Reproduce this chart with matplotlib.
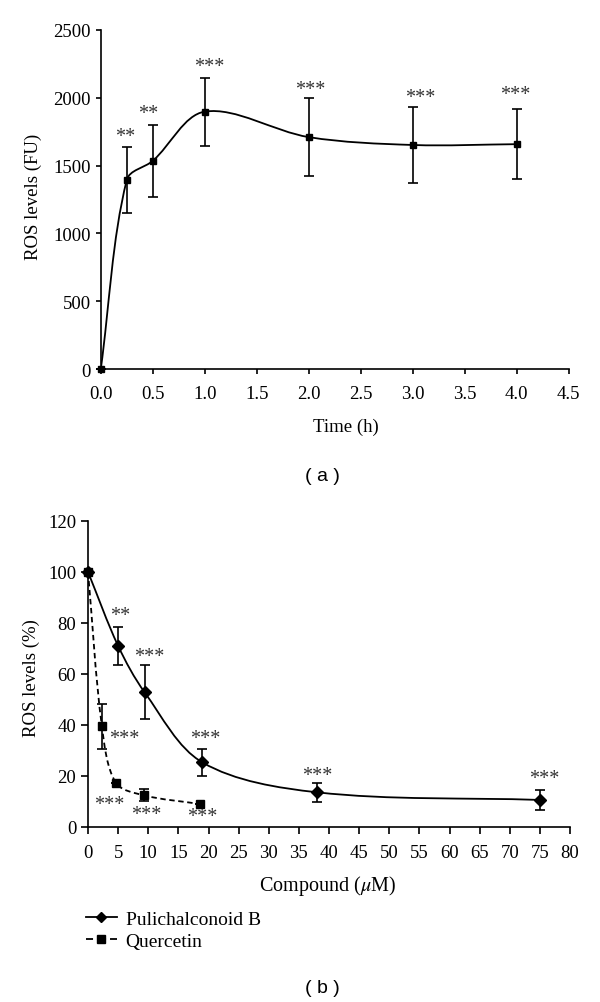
import numpy as np
import matplotlib
matplotlib.use("Agg")
import matplotlib.pyplot as plt
from matplotlib.path import Path
from matplotlib.patches import PathPatch
from matplotlib.lines import Line2D

plt.rcParams['font.family'] = ['Liberation Serif', 'DejaVu Serif']
plt.rcParams['mathtext.fontset'] = 'stix'

# panel (a): ROS over time
time_h = [0, 0.25, 0.5, 1.0, 2.0, 3.0, 4.0]
ros_fu = [0, 1395, 1535, 1898, 1710, 1652, 1658]
ros_fu_err = [0, 243, 265, 250, 288, 280, 260]
stars_a = ['', '**', '**', '***', '***', '***', '***']
stars_a_pos = [None, (0.23, 1713), (0.46, 1886), (1.04, 2229),
               (2.01, 2060), (3.07, 2001), (3.98, 2025)]

# panel (b): ROS vs compound concentration
pul_conc = [0, 5, 9.4, 19, 38, 75]
pul_ros = [100, 71, 52.8, 25.3, 13.6, 10.6]
pul_err = [0, 7.3, 10.6, 5.3, 3.7, 4.0]
pul_stars = ['', '**', '***', '***', '***', '***']
pul_stars_pos = [None, (5.4, 83.1), (10.1, 66.9), (19.5, 34.5),
                 (38.0, 20.1), (75.7, 19.2)]

que_conc = [0, 2.3, 4.6, 9.3, 18.6]
que_ros = [100, 39.5, 17.4, 12.4, 9.0]
que_err = [0, 8.8, 0, 2.3, 0]
que_stars = ['', '***', '***', '***', '***']
que_stars_pos = [None, (6.0, 34.8), (3.5, 8.7), (9.7, 4.7), (18.9, 4.0)]


def smooth_path(ax, x, y):
    # smoothed line like a spreadsheet: Bezier segments, tangents scaled
    # by chord length measured on screen
    pts = ax.transData.transform(np.column_stack([x, y]))
    n = len(pts)
    verts = [pts[0]]
    codes = [Path.MOVETO]

    def handles(i):
        prev = pts[max(i - 1, 0)]
        nxt = pts[min(i + 1, n - 1)]
        tan = nxt - prev
        d0 = np.hypot(*(pts[i] - prev))
        d1 = np.hypot(*(nxt - pts[i]))
        tot = d0 + d1 if d0 + d1 > 0 else 1
        return pts[i] - tan * d0 / tot / 3, pts[i] + tan * d1 / tot / 3

    for i in range(n - 1):
        c1 = handles(i)[1]
        c2 = handles(i + 1)[0]
        verts += [c1, c2, pts[i + 1]]
        codes += [Path.CURVE4] * 3
    verts = ax.transData.inverted().transform(np.array(verts))
    return Path(verts, codes)


def style_axes(ax, ticklen):
    ax.spines['top'].set_visible(False)
    ax.spines['right'].set_visible(False)
    for s in ['left', 'bottom']:
        ax.spines[s].set_linewidth(1.2)
    ax.tick_params(direction='out', length=ticklen, width=1.2,
                   labelsize=13.5)


fig = plt.figure(figsize=(6.0, 10.03), dpi=100)

# ---- (a)
ax1 = fig.add_axes([0.168, 0.6311, 0.780, 0.338])
ax1.set_xlim(0, 4.5)
ax1.set_ylim(0, 2500)
ax1.add_patch(PathPatch(smooth_path(ax1, time_h, ros_fu), fill=False,
                        lw=1.3, ec='black'))
ax1.errorbar(time_h, ros_fu, yerr=ros_fu_err, fmt='s', color='black',
             ms=5, capsize=3.5, elinewidth=1.2, capthick=1.2, clip_on=False,
             zorder=3)
for s, p in zip(stars_a, stars_a_pos):
    if p:
        ax1.text(p[0], p[1], s, ha='center', va='center', fontsize=14.5,
                 color='#333333')
ax1.set_xticks(np.arange(0, 4.51, 0.5))
ax1.set_xticklabels([f'{v:.1f}' for v in np.arange(0, 4.51, 0.5)])
ax1.set_yticks(range(0, 2501, 500))
style_axes(ax1, 3.6)
ax1.tick_params(axis='x', pad=8)
ax1.set_xlabel('Time (h)', fontsize=13.5)
ax1.xaxis.set_label_coords(0.523, -0.143)
ax1.set_ylabel('ROS levels (FU)', fontsize=13.5)
ax1.yaxis.set_label_coords(-0.125, 0.51)
fig.text(0.537, 1 - 477 / 1003, '( a )', ha='center', va='center',
         fontsize=14, family='Liberation Sans')

# ---- (b)
ax2 = fig.add_axes([0.1467, 0.1745, 0.8033, 0.3051])
ax2.set_xlim(0, 80)
ax2.set_ylim(0, 120)
ax2.add_patch(PathPatch(smooth_path(ax2, pul_conc, pul_ros), fill=False,
                        lw=1.3, ec='black'))
ax2.add_patch(PathPatch(smooth_path(ax2, que_conc, que_ros), fill=False,
                        lw=1.3, ec='black', linestyle=(0, (3, 2))))
ax2.errorbar(pul_conc, pul_ros, yerr=pul_err, fmt='D', color='black',
             ms=6.5, capsize=3.5, elinewidth=1.2, capthick=1.2,
             clip_on=False, zorder=3)
ax2.errorbar(que_conc, que_ros, yerr=que_err, fmt='s', color='black',
             ms=6, capsize=3.5, elinewidth=1.2, capthick=1.2,
             clip_on=False, zorder=3)
for s, p in zip(pul_stars + que_stars, pul_stars_pos + que_stars_pos):
    if p:
        ax2.text(p[0], p[1], s, ha='center', va='center', fontsize=14.5,
                 color='#333333')
ax2.set_xticks(range(0, 81, 5))
ax2.set_yticks(range(0, 121, 20))
style_axes(ax2, 5)
ax2.tick_params(axis='x', pad=7)
ax2.set_xlabel(r'Compound ($\mu$M)', fontsize=14.5)
ax2.xaxis.set_label_coords(0.498, -0.152)
ax2.set_ylabel('ROS levels (%)', fontsize=13.5)
ax2.yaxis.set_label_coords(-0.10, 0.49)

handles = [Line2D([], [], color='black', lw=1.3, marker='D', ms=5.5),
           Line2D([], [], color='black', lw=1.3, marker='s', ms=5.5,
                  linestyle=(0, (3.9, 2.2, 5, 2.2)))]
fig.legend(handles, ['Pulichalconoid B', 'Quercetin'], loc='upper left',
           bbox_to_anchor=(0.143, 1 - 911 / 1003), frameon=False,
           fontsize=14, handlelength=1.6, handletextpad=0.45,
           labelspacing=0.25, borderpad=0, borderaxespad=0)
fig.text(0.538, 1 - 989 / 1003, '( b )', ha='center', va='center',
         fontsize=14, family='Liberation Sans')

fig.savefig('out.png', dpi=100)
